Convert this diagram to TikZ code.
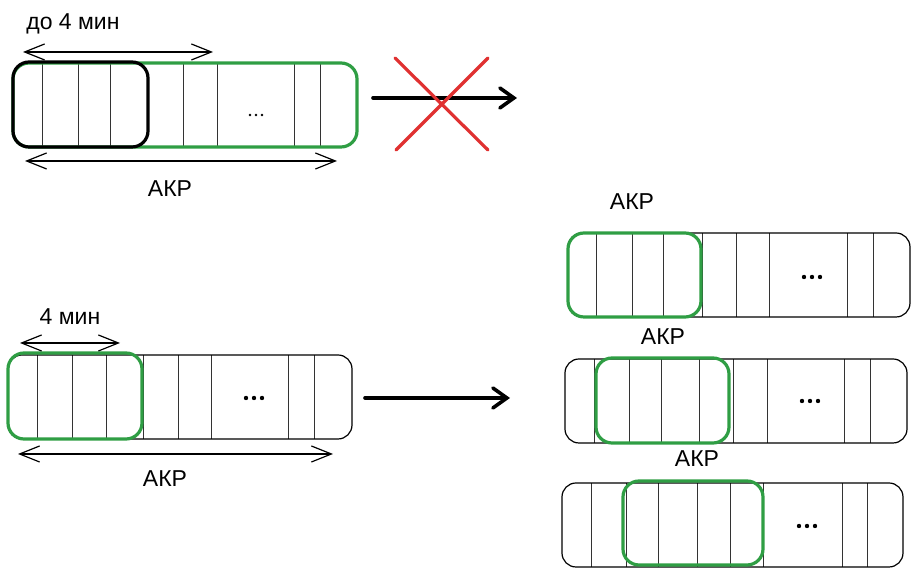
\documentclass[tikz,border=0pt]{standalone}
\usepackage{fontspec}
\setmainfont{Liberation Sans}
\usetikzlibrary{arrows.meta}
\definecolor{akpgreen}{HTML}{2F9E44}
\definecolor{crossred}{HTML}{E03131}
\tikzset{
  strip/.style={line width=0.6pt,rounded corners=7pt},
  window/.style={akpgreen,line width=1.6pt,rounded corners=8pt},
  cell/.style={line width=0.5pt,black!80},
  span/.style={line width=0.6pt,{Straight Barb[length=10pt,width=8pt]}-{Straight Barb[length=10pt,width=8pt]}},
  move/.style={line width=1.8pt,line cap=round,-{Straight Barb[length=7pt,width=10pt,line cap=round]}},
  lbl/.style={font=\fontsize{11.5}{13}\selectfont}
}
\begin{document}
\begin{tikzpicture}[x=0.5pt,y=-0.5pt]
\useasboundingbox (0,0) rectangle (918,576);
\foreach \x in {42,78,110,183,217,294,320} \draw[cell] (\x,63)--(\x,147);
\draw[window] (13,63) rectangle (357,147);
\draw[line width=1.6pt,rounded corners=8pt] (13,62) rectangle (148,147);
\foreach \x in {250,256,262} \fill (\x,115) circle[radius=0.7pt];
\coordinate (upL) at (23,52);
\coordinate (upR) at (213,52);
\coordinate (allL) at (25,161);
\coordinate (allR) at (337,161);
\draw[span] (upL)--(upR);
\draw[span] (allL)--(allR);
\node[lbl] (upto) at (73,24) {до 4 мин};
\node[lbl] (akpA) at (170,189) {АКР};
\coordinate (noFrom) at (373,98);
\coordinate (noTo) at (517,98);
\draw[move] (noFrom)--(noTo);
\draw[crossred,line width=1.6pt,line cap=round] (395,58)--(488,150) (488,58)--(396,150);
\foreach \x in {37,72,106,143,178,211,288,314} \draw[cell] (\x,355)--(\x,439);
\draw[strip] (8,355) rectangle (352,439);
\draw[window] (8,353) rectangle (142,439);
\foreach \x in {246,254,262} \fill (\x,398) circle[radius=1.1pt];
\coordinate (winL) at (20,343);
\coordinate (winR) at (120,343);
\coordinate (fullL) at (18,454);
\coordinate (fullR) at (333,454);
\draw[span] (winL)--(winR);
\draw[span] (fullL)--(fullR);
\node[lbl] (four) at (70,317) {4 мин};
\node[lbl] (akpB) at (165,479) {АКР};
\coordinate (goFrom) at (365,398);
\coordinate (goTo) at (510,398);
\draw[move] (goFrom)--(goTo);
\foreach \x in {596,632,663,702,736,769,847,873} \draw[cell] (\x,233)--(\x,317);
\draw[strip] (568,233) rectangle (910,317);
\draw[window] (568,233) rectangle (701,317);
\foreach \x in {804,812,820} \fill (\x,277) circle[radius=1.1pt];
\node[lbl] (akpC) at (632,202) {АКР};
\foreach \x in {594,629,661,699,733,767,844,870} \draw[cell] (\x,359)--(\x,443);
\draw[strip] (565,359) rectangle (907,443);
\draw[window] (596,358) rectangle (729,443);
\foreach \x in {802,810,818} \fill (\x,401) circle[radius=1.1pt];
\node[lbl] (akpD) at (663,337) {АКР};
\foreach \x in {591,626,658,697,730,763,842,867} \draw[cell] (\x,483)--(\x,567);
\draw[strip] (562,483) rectangle (903,567);
\draw[window] (623,481) rectangle (763,565);
\foreach \x in {799,807,815} \fill (\x,526) circle[radius=1.1pt];
\node[lbl] (akpE) at (697,459) {АКР};
\end{tikzpicture}
\end{document}
